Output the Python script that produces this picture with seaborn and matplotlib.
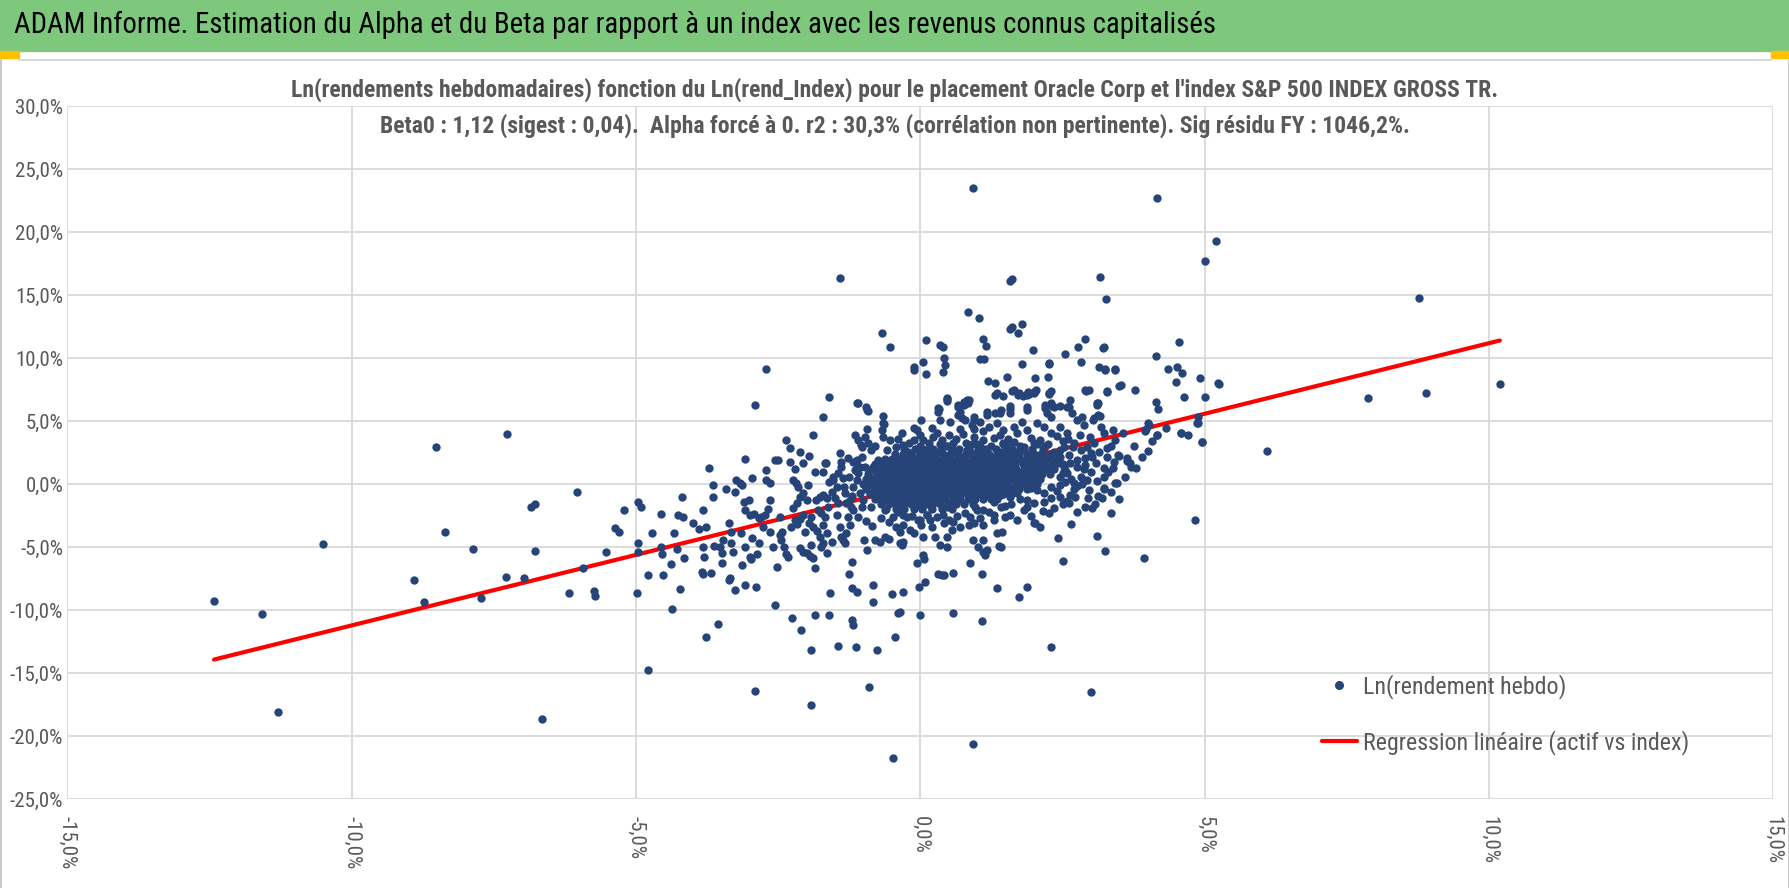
import matplotlib
matplotlib.use("Agg")
import matplotlib.pyplot as plt
from matplotlib import font_manager
from matplotlib.lines import Line2D
from matplotlib.patches import Rectangle
from matplotlib.ticker import FuncFormatter, MultipleLocator
import pandas as pd
import seaborn as sns

# Donnees (rendements hebdo en %, index vs actif)
beta0 = 1.12

far_left = [
    (-12.42, -9.23), (-11.57, -10.26), (-11.3, -18.1), (-10.51, -4.71), (-8.51, 2.96),
    (-8.91, -7.59), (-8.73, -9.34), (-8.36, -3.76), (-7.86, -5.16), (-7.73, -9.0),
    (-7.26, 4.02), (-7.29, -7.38), (-6.97, -7.46), (-6.84, -1.77), (-6.78, -1.53),
    (-6.78, -5.26), (-6.65, -18.6), (-6.17, -8.62), (-6.03, -0.63), (-5.94, -6.64),
    (-5.74, -8.45), (-5.72, -8.87), (-5.52, -5.4), (-5.37, -3.5), (-5.30, -3.79),
    (-5.21, -2.02),
]

left_band = [
    (-4.99, -8.6), (-4.96, -1.38), (-4.92, -1.78), (-4.96, -4.69), (-4.97, -5.4),
    (-4.79, -7.23), (-4.79, -14.7), (-4.72, -3.89), (-4.56, -2.36), (-4.56, -4.95),
    (-4.54, -5.54), (-4.52, -7.23), (-4.38, -6.32), (-4.37, -9.92), (-4.34, -3.89),
    (-4.28, -5.16), (-4.27, -2.46), (-4.18, -2.62), (-4.19, -0.98), (-4.23, -8.3),
    (-4.16, -5.85), (-4.0, -3.1), (-3.89, -3.57), (-3.77, -3.36), (-3.82, -4.95),
    (-3.83, -2.04), (-3.82, -7.15), (-3.84, -6.94), (-3.77, -12.09), (-3.71, 1.27),
    (-3.65, -0.08), (-3.64, -0.98), (-3.68, -7.02), (-3.81, -5.74), (-3.56, -11.06),
    (-3.62, -4.87), (-3.53, -4.95), (-3.47, -4.42), (-3.49, -6.22), (-3.49, -5.48),
    (-3.42, -0.4), (-3.36, -3.1), (-3.33, -3.76), (-3.33, -4.69), (-3.35, -7.41),
    (-3.36, -7.6), (-3.26, -8.39), (-3.30, -5.35), (-3.26, -0.58), (-3.24, 0.34),
    (-3.18, 0.13), (-3.13, -0.06), (-3.09, 2.0), (-3.10, -1.38), (-3.09, -2.04),
    (-3.15, -3.89), (-3.09, -4.95), (-3.13, -6.41), (-3.09, -8.02), (-2.97, -5.96),
    (-2.99, -5.74), (-2.96, -4.29), (-2.96, 0.53), (-3.02, -1.25), (-2.99, -2.43),
    (-2.92, -2.36), (-2.87, -5.54), (-2.89, -8.18), (-2.83, -4.69), (-2.83, -2.70),
    (-2.80, -2.56), (-2.90, 6.29), (-2.76, -3.36), (-2.74, -2.43), (-2.71, 0.34),
    (-2.65, 0.13), (-2.65, -1.25), (-2.68, -1.99), (-2.64, -3.76), (-2.59, -4.95),
    (-2.72, 1.13), (-2.56, 1.93), (-2.50, 1.93), (-2.56, -9.55), (-2.52, -6.53),
    (-2.47, -2.56), (-2.47, -4.02), (-2.45, -4.42), (-2.43, -3.76), (-2.40, -4.95),
    (-2.36, -5.54), (-2.33, -5.8), (-2.36, 3.52), (-2.30, 2.85), (-2.30, 1.8),
    (-2.21, 1.19), (-2.24, 0.34), (-2.18, 0.08), (-2.15, -0.19), (-2.12, 2.59),
    (-2.26, -10.64), (-2.09, -11.56), (-1.93, -13.15), (-2.24, -1.9), (-2.17, -1.51),
    (-2.11, -0.98), (-2.06, -0.71), (-2.0, -1.25), (-1.97, -0.06), (-2.27, -3.36),
    (-2.21, -2.83), (-2.17, -3.15), (-2.11, -2.78), (-2.06, -2.43), (-2.03, -3.76),
    (-1.96, -3.05), (-1.92, -2.62), (-2.12, -5.08), (-2.06, -5.35), (-2.0, -5.48),
    (-1.94, -5.69), (-1.89, -5.88), (-1.85, -6.67), (-1.93, -4.82), (-1.96, 2.25),
    (-1.88, 3.91), (-1.71, 5.31), (-1.68, 1.66), (-1.71, 1.0), (-1.86, 1.0),
    (-1.85, -10.38), (-1.60, -10.38), (-1.58, -8.65), (-1.65, -5.43), (-1.83, -1.25),
    (-1.77, -0.98), (-1.71, -0.85), (-1.65, -1.11), (-1.80, -2.04), (-1.74, -2.30),
    (-1.68, -2.56), (-1.62, -1.77), (-1.89, -3.36), (-1.82, -3.68), (-1.77, -4.16),
    (-1.71, -3.23), (-1.65, -3.89), (-1.56, -4.55), (-1.71, -4.68), (-1.74, -4.95),
    (-2.07, 1.71), (-1.66, 1.71), (-1.53, 0.55), (-2.71, 9.12), (-1.61, 6.96),
]

mid_left = [
    (-1.53, 0.34), (-1.47, -0.19), (-1.41, 2.46), (-1.40, 1.4), (-1.36, 0.47),
    (-1.33, -0.72), (-1.30, -1.51), (-1.45, -1.51), (-1.47, -2.43), (-1.41, -3.36),
    (-1.39, -4.16), (-1.36, -4.42), (-1.33, -4.68), (-1.24, -3.23), (-1.27, -2.56),
    (-1.30, -3.89), (-1.25, -7.12), (-1.20, -6.19), (-1.20, -8.26), (-1.12, -8.55),
    (-1.21, -10.77), (-1.18, -11.17), (-1.44, -12.83), (-1.14, -12.94), (-1.15, 3.91),
    (-1.09, 3.52), (-1.04, 3.12), (-0.98, 3.78), (-0.92, 3.25), (-0.86, 2.72),
    (-1.12, 1.93), (-1.06, 1.4), (-1.12, 6.42), (-0.96, 6.16), (-0.93, 5.89),
    (-0.65, 5.42), (-0.68, 4.3), (-0.65, 3.78), (-0.83, -8.0), (-0.83, -9.31),
    (-0.93, -5.21), (-0.80, -4.42), (-0.71, -4.55), (-0.62, -4.16), (-0.56, -4.37),
    (-0.49, -8.71), (-0.45, -12.1), (-0.39, -10.24), (-0.35, -10.1), (-0.30, -8.52),
    (-0.77, -13.15), (-0.66, 4.84), (-0.94, 4.36), (-1.02, 2.98), (-1.18, 1.79),
    (-1.12, 1.26), (-1.03, 2.19), (-0.79, 3.04), (-0.59, 2.72), (-0.53, 3.51),
    (-0.43, 2.98), (-0.33, 4.04), (-0.3, 3.11), (-0.12, 4.49), (-0.06, 4.28),
    (0.02, 5.08), (0.2, 4.49), (0.32, 6.0), (0.35, 5.08), (0.47, 6.8),
    (0.53, 4.95), (0.67, 6.27), (0.69, 5.74), (0.76, 6.53), (0.85, 6.67),
    (0.94, 5.08), (0.94, 4.42), (0.70, 4.42), (0.23, 3.78), (0.38, 3.51),
    (0.58, 3.25), (0.05, 3.51), (0.11, 2.72), (-0.12, 3.51),
    (-1.18, -0.19), (-1.12, 0.34), (-1.06, -0.72), (-1.01, -1.25), (-0.95, -0.19),
    (-1.03, -1.78), (-1.18, -2.04), (-1.24, -1.25), (-1.09, 0.87), (-0.98, 1.4),
    (-0.92, 0.47), (-0.86, -1.78), (-0.8, -0.98), (-0.77, -0.06), (-0.71, 0.61),
    (-0.83, 1.4), (-0.74, 1.93), (-0.68, -1.25), (-0.62, -2.04),
    (-1.45, 0.9), (-1.35, -0.2), (-1.25, 0.6), (-1.2, -0.9), (-1.15, 1.1),
    (-1.55, -0.6), (-1.6, 0.2), (-1.5, -1.1), (-1.4, 1.8), (-1.28, 2.1),
    (-1.22, -1.8), (-1.1, -2.6), (-0.95, -2.9), (-0.85, -3.3), (-0.7, -2.7),
    (-0.55, -3.0), (-0.4, -2.2), (-0.3, -3.2), (-0.15, -2.5), (0.0, -2.8),
    (0.2, -3.4), (0.4, -2.4), (0.55, -3.6), (0.65, -2.5), (0.85, -3.2),
    (1.05, -2.7), (1.2, -2.2), (1.35, -1.2), (1.6, -1.6), (1.75, -1.2),
    (2.0, -1.5), (2.15, -2.1), (1.95, -2.5),
]

below_core = [
    (-0.99, -4.42), (-0.36, -4.68), (-0.33, -4.82), (-0.30, -4.55), (0.02, -3.23),
    (0.05, -4.16), (0.26, -4.16), (0.35, -4.82), (0.46, -4.95), (0.46, -4.16),
    (0.58, -2.97), (0.70, -3.36), (0.93, -4.42), (1.02, -4.95), (1.11, -5.35),
    (1.17, -5.21), (1.11, -3.23), (1.29, -2.83), (1.35, -3.89), (1.43, -3.76),
    (1.41, -4.95), (1.82, -2.04), (1.99, -3.1), (2.26, -2.3), (2.11, -3.36),
    (-0.48, -2.56), (-0.42, -3.36), (-0.36, -3.76), (-0.24, -2.56), (-0.18, -3.62),
    (-0.12, -3.89), (0.11, -2.43), (0.17, -2.83), (0.29, -2.56), (0.41, -3.1),
    (0.79, -2.3), (0.88, -2.56), (0.99, -2.04), (1.58, -2.43), (1.70, -2.83),
    (1.88, -1.77), (1.49, -2.56), (1.39, -4.9), (1.11, -4.44), (1.14, -5.63),
    (0.94, -3.05), (1.29, -2.45), (1.49, -1.73), (1.41, -1.78), (1.29, -1.38),
    (1.11, -2.05), (0.96, -1.78), (2.02, -3.05),
]

low_scatter = [
    (-0.06, -6.27), (-0.01, -10.38), (-0.02, -8.13), (0.08, -7.73), (0.05, -5.61),
    (0.06, -5.95), (0.31, -7.12), (0.38, -7.17), (0.42, -7.17), (0.57, -7.04),
    (0.57, -10.22), (0.88, -6.27), (1.08, -7.12), (1.08, -10.88), (1.35, -8.26),
    (1.73, -8.97), (1.88, -8.18), (2.3, -12.9), (2.42, -4.29), (2.51, -6.09),
    (2.65, -3.15), (3.1, -4.1), (3.24, -5.28), (3.36, -2.26), (3.93, -5.88),
    (4.83, -2.83), (-2.9, -16.4), (-1.92, -17.5), (-0.9, -16.1), (-0.48, -21.7),
    (0.92, -20.6), (3.0, -16.5),
]

right_side = [
    (2.89, -1.78), (3.02, -1.86), (3.07, -1.6), (2.61, -1.46), (2.35, -1.91),
    (2.17, -1.38), (2.29, -0.19), (2.45, -0.06), (2.76, -0.14), (2.93, 0.34),
    (2.96, -0.45), (3.23, -0.32), (3.23, 0.61), (3.35, -0.58), (3.43, 0.08),
    (3.23, 1.27), (3.41, 1.8), (3.48, 2.33), (3.63, 1.85), (3.7, 1.4),
    (3.29, 2.86), (3.43, 3.52), (3.57, 4.05), (3.38, 4.31), (3.23, 4.05),
    (4.0, 2.64), (4.08, 3.44), (4.17, 3.91), (4.32, 4.44), (4.58, 4.05),
    (4.71, 3.91), (4.95, 3.33), (4.88, 4.84), (4.88, 5.37), (3.95, 4.2),
    (4.02, 4.68), (4.14, 6.56), (4.18, 5.95), (4.63, 6.95), (5.01, 6.95),
    (5.25, 7.96), (3.52, 7.88), (3.77, 7.49), (3.29, 7.38), (3.11, 6.43),
    (3.12, 5.48), (3.05, 5.29), (3.17, 4.57), (2.88, 4.71), (2.76, 5.11),
    (2.99, 3.78), (2.93, 2.99), (3.02, 2.2), (3.08, 1.67), (2.82, 2.73),
    (2.7, 3.25), (4.16, 22.7), (5.2, 19.3), (5.01, 17.7), (3.16, 16.45),
    (3.26, 14.7), (8.76, 14.8), (10.19, 7.96), (7.87, 6.82), (8.90, 7.27),
    (6.09, 2.61), (2.89, 11.56), (2.78, 10.9), (2.55, 10.31), (2.26, 9.6),
    (2.82, 9.71), (3.22, 10.8), (3.14, 9.34), (3.24, 9.16), (3.43, 9.16),
    (2.96, 7.49), (2.89, 7.49), (4.14, 10.22), (4.54, 11.28), (4.36, 9.16),
    (4.52, 9.29), (4.6, 8.82), (4.5, 8.1), (4.92, 8.44), (5.23, 8.0),
    (4.01, 4.84), (3.96, 4.36), (3.64, 2.12), (3.69, 1.73), (3.0, 1.0),
    (3.12, 6.47), (3.16, 5.42), (4.16, 3.91), (4.87, 4.86), (4.96, 3.36),
    (4.59, 4.05), (3.49, 2.26), (3.45, 0.08), (3.23, -0.4),
    (2.55, 0.2), (2.7, -0.4), (2.62, 2.35), (2.75, 1.9), (2.88, 1.2),
    (2.95, -1.1), (3.1, 0.3), (3.15, 2.6), (3.3, 1.0), (2.7, 0.1),
    (2.9, 2.1), (3.05, 3.3), (3.35, 3.0), (2.6, 3.6), (2.8, 3.9),
    (2.5, 3.4), (2.4, -0.5), (2.58, -1.3), (2.75, -2.2), (3.2, -1.1),
    (3.5, -1.2), (3.6, 0.6), (3.8, 1.3), (3.75, 3.0), (3.9, 2.2),
    (2.45, 2.7), (2.55, 1.1), (2.65, 0.45), (2.72, -1.0), (2.85, 0.0),
    (2.9, 1.55), (3.0, 2.5), (3.12, -0.9), (3.28, 2.2), (3.38, 1.3),
    (2.5, -1.6), (2.68, 2.95), (2.42, 1.7), (2.5, 0.9),
]

upper_side = [
    (0.93, 23.5), (-1.42, 16.35), (1.58, 16.16), (1.62, 16.27), (0.84, 13.67),
    (1.04, 13.2), (-0.67, 12.04), (-0.53, 10.87), (0.1, 11.45), (0.35, 11.05),
    (0.4, 10.87), (1.58, 12.32), (1.61, 12.51), (1.78, 12.75), (1.72, 12.04),
    (1.10, 11.5), (1.16, 11.0), (1.98, 10.63), (-0.12, 9.07), (-0.11, 9.28),
    (0.04, 9.7), (0.1, 8.78), (0.39, 8.91), (0.42, 9.99), (0.43, 9.49),
    (1.05, 9.97), (1.12, 9.97), (1.19, 8.19), (1.31, 8.06), (1.52, 8.53),
    (1.32, 7.1), (1.45, 6.99), (1.61, 7.44), (1.71, 7.12), (1.79, 9.55),
    (1.81, 6.99), (1.88, 7.17), (2.02, 8.4), (2.02, 7.44), (2.24, 8.48),
    (2.27, 9.55), (2.27, 7.17), (2.29, 7.44), (3.23, 10.87), (3.25, 9.07),
    (3.42, 9.07), (3.5, 7.8), (2.92, 7.44), (3.28, 7.33), (-1.09, 6.43),
    (-0.92, 5.84), (-0.64, 4.79), (0.31, 5.75), (0.47, 6.59), (0.67, 6.14),
    (0.76, 6.33), (0.84, 6.46), (0.67, 5.53), (0.73, 5.27), (1.17, 5.53),
    (1.4, 5.66), (1.57, 5.98), (1.88, 5.92), (2.2, 6.33), (2.22, 5.66),
    (2.32, 6.19), (2.45, 6.25), (2.61, 6.14), (2.67, 5.66), (2.85, 5.34),
    (3.04, 5.13), (3.11, 6.3), (0.46, 6.85), (0.31, 6.08), (1.87, 7.05),
    (1.9, 7.32), (2.0, 7.26), (2.04, 7.5), (1.57, 6.22), (1.87, 6.17),
    (2.2, 6.08), (2.29, 6.43), (2.35, 6.17), (2.64, 6.69), (2.58, 6.16),
    (2.29, 5.37), (2.26, 7.22), (2.0, 7.35), (1.91, 7.16), (1.73, 7.22),
    (1.64, 7.49), (1.58, 5.64), (1.35, 7.22), (1.32, 5.64), (1.41, 5.9),
    (1.17, 5.77), (0.94, 5.37), (0.82, 6.69), (0.73, 6.3),
]

near_core = [
    (0.79, 5.1), (0.91, 4.71), (1.05, 4.97), (1.2, 4.57), (1.35, 4.84),
    (1.46, 4.31), (1.64, 4.57), (1.79, 4.97), (1.88, 4.31), (2.05, 4.84),
    (2.17, 4.57), (2.29, 4.05), (2.46, 4.57), (2.58, 4.05), (0.94, 3.78),
    (1.11, 3.52), (1.29, 3.65), (1.46, 3.25), (1.64, 3.38), (1.82, 2.99),
    (2.0, 3.25), (2.17, 2.85), (2.35, 2.59), (2.52, 2.99), (0.82, 2.73),
    (1.0, 2.46), (1.17, 2.2), (1.35, 2.33), (1.52, 1.93), (1.7, 2.2),
    (1.88, 1.93), (2.11, 2.33), (0.76, 1.67), (1.05, 1.53), (1.29, 1.4),
    (1.58, 1.27), (1.88, 1.0), (2.46, 0.61), (2.82, 0.61), (2.17, -0.72),
    (2.05, -0.45), (1.94, -0.32), (2.29, -1.11), (2.46, -0.98), (2.64, -0.85),
    (1.70, -0.72), (1.58, -0.98), (1.41, -0.85), (1.17, -0.85), (0.94, -0.72),
    (0.76, -0.58), (1.88, -1.25), (1.52, -0.45), (1.82, 0.34), (1.96, 0.34),
    (2.11, 0.87), (2.23, 1.4), (2.0, 1.67), (2.35, 1.93), (2.46, 2.2),
    (2.64, 1.67), (2.76, 1.4), (2.58, 0.87), (2.52, 1.4),
    (-0.4, 3.6), (-0.2, 3.3), (0.0, 3.9), (0.15, 3.3), (0.3, 4.1),
    (0.45, 3.0), (0.5, 3.9), (0.62, 3.6), (0.8, 3.3), (0.75, 4.0),
    (1.0, 3.2), (1.1, 4.2), (1.25, 3.0), (1.4, 3.9), (1.55, 3.6),
    (1.7, 4.1), (1.75, 3.0), (1.95, 3.7), (2.1, 3.5), (2.25, 3.2),
    (2.4, 3.8),
]

# coeur dense du nuage : une ligne par niveau de rendement de l'actif
core_rows = [
    (3.2, [0.35, 0.9, 1.45, 2.05]),
    (3.0, [0.0, 0.48, 1.05, 1.58, 2.2]),
    (2.8, [-0.28, -0.1, 0.05, 0.22, 0.37, 0.55, 0.68, 0.86, 1.02, 1.15, 1.33, 1.5,
           1.62, 1.8, 1.97, 2.15]),
    (2.6, [-0.22, 0.08, 0.32, 0.6, 0.88, 1.14, 1.41, 1.68, 1.94]),
    (2.4, [-0.45, -0.3, -0.16, 0.0, 0.12, 0.26, 0.4, 0.53, 0.67, 0.8, 0.95, 1.08,
           1.2, 1.35, 1.47, 1.6, 1.74, 1.88, 2.0, 2.13, 2.3]),
    (2.2, [-0.29, -0.04, 0.21, 0.46, 0.71, 0.96, 1.21, 1.44, 1.69, 1.94, 2.19]),
    (2.0, [-0.62, -0.5, -0.36, -0.22, -0.1, 0.03, 0.15, 0.28, 0.4, 0.52, 0.65, 0.77,
           0.9, 1.02, 1.14, 1.27, 1.38, 1.5, 1.63, 1.75, 1.88, 2.0, 2.12, 2.26, 2.42]),
    (1.8, [-0.46, -0.21, 0.03, 0.27, 0.51, 0.63, 0.88, 1.12, 1.36, 1.61, 1.86, 2.11]),
    (1.6, [-0.8, -0.66, -0.53, -0.4, -0.27, -0.15, -0.03, 0.09, 0.2, 0.33, 0.45, 0.57,
           0.7, 0.82, 0.93, 1.06, 1.18, 1.3, 1.42, 1.55, 1.67, 1.8, 1.92, 2.05, 2.18,
           2.32, 2.5]),
    (1.4, [-0.56, -0.3, -0.06, 0.17, 0.41, 0.65, 0.89, 1.12, 1.36, 1.61, 1.86, 2.12]),
    (1.2, [-0.85, -0.72, -0.6, -0.46, -0.33, -0.21, -0.09, 0.03, 0.14, 0.26, 0.38, 0.5,
           0.61, 0.73, 0.85, 0.97, 1.09, 1.2, 1.33, 1.45, 1.57, 1.69, 1.82, 1.94, 2.07,
           2.2, 2.35]),
    (1.0, [-0.62, -0.37, -0.12, 0.11, 0.35, 0.58, 0.82, 1.06, 1.3, 1.54, 1.78, 2.04]),
    (0.8, [-0.92, -0.78, -0.65, -0.52, -0.4, -0.28, -0.15, -0.04, 0.08, 0.2, 0.32, 0.44,
           0.55, 0.67, 0.79, 0.91, 1.03, 1.15, 1.27, 1.39, 1.51, 1.63, 1.75, 1.88, 2.0,
           2.14, 2.28]),
    (0.6, [-0.68, -0.43, -0.18, 0.05, 0.29, 0.53, 0.76, 1.0, 1.24, 1.48, 1.72, 1.98]),
    (0.4, [-0.96, -0.83, -0.7, -0.57, -0.45, -0.33, -0.21, -0.09, 0.02, 0.14, 0.26, 0.38,
           0.5, 0.62, 0.73, 0.85, 0.97, 1.09, 1.21, 1.33, 1.45, 1.57, 1.7, 1.82, 1.95,
           2.1]),
    (0.2, [-0.72, -0.47, -0.23, 0.0, 0.24, 0.48, 0.71, 0.95, 1.19, 1.43, 1.68, 1.93]),
    (0.0, [-1.0, -0.87, -0.74, -0.61, -0.49, -0.37, -0.25, -0.13, -0.01, 0.1, 0.22, 0.34,
           0.46, 0.58, 0.69, 0.81, 0.93, 1.05, 1.17, 1.29, 1.41, 1.53, 1.66, 1.78, 1.9,
           2.05]),
    (-0.2, [-0.71, -0.46, -0.22, 0.02, 0.25, 0.49, 0.72, 0.96, 1.2, 1.44, 1.7]),
    (-0.4, [-0.95, -0.82, -0.69, -0.56, -0.44, -0.32, -0.2, -0.08, 0.04, 0.16, 0.28, 0.4,
            0.52, 0.63, 0.75, 0.87, 0.99, 1.11, 1.23, 1.36, 1.48, 1.6, 1.74, 1.88]),
    (-0.6, [-0.65, -0.41, -0.17, 0.07, 0.31, 0.55, 0.78, 1.02, 1.28]),
    (-0.8, [-0.88, -0.75, -0.62, -0.5, -0.38, -0.26, -0.14, -0.02, 0.1, 0.22, 0.34, 0.46,
            0.58, 0.7, 0.82, 0.94, 1.06, 1.19, 1.32, 1.45, 1.6]),
    (-1.0, [-0.58, -0.33, -0.09, 0.15, 0.39, 0.63, 0.89]),
    (-1.2, [-0.8, -0.66, -0.53, -0.4, -0.28, -0.16, -0.04, 0.08, 0.2, 0.32, 0.44, 0.57,
            0.7, 0.83, 0.96, 1.1, 1.25]),
    (-1.4, [-0.48, -0.23, 0.02, 0.27, 0.54]),
    (-1.6, [-0.7, -0.55, -0.42, -0.3, -0.17, -0.05, 0.08, 0.21, 0.34, 0.48, 0.62, 0.76,
            0.92]),
    (-1.8, [-0.36, -0.09, 0.19, 0.47]),
    (-2.0, [-0.6, -0.43, -0.28, -0.12, 0.03, 0.2, 0.38, 0.55]),
    (-2.4, [-0.3, 0.12]),
    (-2.8, [-0.05, 0.5]),
]

title_bar = ("ADAM Informe. Estimation du Alpha et du Beta par rapport à un index "
             "avec les revenus connus capitalisés")
title_l1 = ("Ln(rendements hebdomadaires) fonction du Ln(rend_Index) pour le placement "
            "Oracle Corp et l'index S&P 500 INDEX GROSS TR.")
title_l2 = ("Beta0 : 1,12 (sigest : 0,04).  Alpha forcé à 0. r2 : 30,3% "
            "(corrélation non pertinente). Sig résidu FY : 1046,2%.")
lab_pts = "Ln(rendement hebdo)"
lab_reg = "Regression linéaire (actif vs index)"

# ---- tableau ----
pts = far_left + left_band + mid_left + below_core + low_scatter + right_side + upper_side + near_core
for yv, xs in core_rows:
    pts += [(xv, yv) for xv in xs]
df = pd.DataFrame(pts, columns=["rend_index", "rend_actif"])

reg = pd.DataFrame({"rend_index": [df["rend_index"].min(), df["rend_index"].max()]})
reg["rend_actif"] = beta0 * reg["rend_index"]

# ---- style ----
sns.set_theme(style="white")
noms = {f.name for f in font_manager.fontManager.ttflist}
police = next((n for n in ["Liberation Sans Narrow", "Roboto Condensed", "Open Sans Condensed",
                           "DejaVu Sans"] if n in noms), "DejaVu Sans")
plt.rcParams["font.family"] = [police, "DejaVu Sans"]

W, H = 1790, 888
fig = plt.figure(figsize=(W / 100, H / 100), dpi=100)
fig.patch.set_facecolor("white")

# bandeau vert + titre
bar_h = 51
fig.patches.append(Rectangle((0, 1 - bar_h / H), 1, bar_h / H, transform=fig.transFigure,
                             color="#7DC87D", zorder=0))
fig.patches.append(Rectangle((0, 1 - (bar_h + 7) / H), 19 / W, 7 / H, transform=fig.transFigure,
                             color="#FFC000", zorder=1))
fig.patches.append(Rectangle((1 - 19 / W, 1 - (bar_h + 7) / H), 19 / W, 7 / H,
                             transform=fig.transFigure, color="#FFC000", zorder=1))
fig.lines.append(Line2D([19 / W, 1 - 19 / W], [1 - (bar_h + 9) / H] * 2, transform=fig.transFigure,
                        color="#D9D9D9", lw=1.5))
fig.lines.append(Line2D([1 / W, 1 / W], [0, 1 - (bar_h + 9) / H], transform=fig.transFigure,
                        color="#BFBFBF", lw=1.2))
fig.lines.append(Line2D([1 - 1 / W, 1 - 1 / W], [0, 1 - (bar_h + 9) / H], transform=fig.transFigure,
                        color="#BFBFBF", lw=1.2))
fig.text(14 / W, 1 - 25 / H, title_bar, ha="left", va="center", fontsize=20.7, color="black")

fig.text(0.5, 1 - 90 / H, title_l1, ha="center", va="center", fontsize=17,
         fontweight="bold", color="#595959")
fig.text(0.5, 1 - 126 / H, title_l2, ha="center", va="center", fontsize=17,
         fontweight="bold", color="#595959")

ax = fig.add_axes([67.3 / W, 1 - 799.3 / H, (1773.4 - 67.3) / W, (799.3 - 106.3) / H])
sns.lineplot(data=reg, x="rend_index", y="rend_actif", color="#FF0000", lw=3, ax=ax, zorder=2)
sns.scatterplot(data=df, x="rend_index", y="rend_actif", color="#264478", s=36,
                linewidth=0, ax=ax, zorder=3)

ax.set_xlim(-15, 15)
ax.set_ylim(-25, 30)
ax.xaxis.set_major_locator(MultipleLocator(5))
ax.yaxis.set_major_locator(MultipleLocator(5))
fmt = FuncFormatter(lambda v, p: f"{v:.1f}%".replace(".", ","))
ax.xaxis.set_major_formatter(fmt)
ax.yaxis.set_major_formatter(fmt)
ax.grid(True, color="#D9D9D9", lw=1.3)
ax.set_axisbelow(True)
for s in ax.spines.values():
    s.set_visible(False)
ax.set_xlabel("")
ax.set_ylabel("")
ax.tick_params(axis="both", length=0, labelsize=15, labelcolor="#595959")
ax.tick_params(axis="x", labelrotation=-90, pad=12)
ax.tick_params(axis="y", pad=3)

handles = [Line2D([], [], marker="o", ls="none", color="#264478", markersize=5.5),
           Line2D([], [], color="#FF0000", lw=3)]
ax.legend(handles, [lab_pts, lab_reg], loc="upper left", bbox_to_anchor=(0.7354, 0.181),
          frameon=False, fontsize=17.3, labelcolor="#595959", handlelength=1.45,
          handletextpad=0.25, labelspacing=1.3, borderaxespad=0, borderpad=0)

fig.savefig("out.png", dpi=100, facecolor="white")
